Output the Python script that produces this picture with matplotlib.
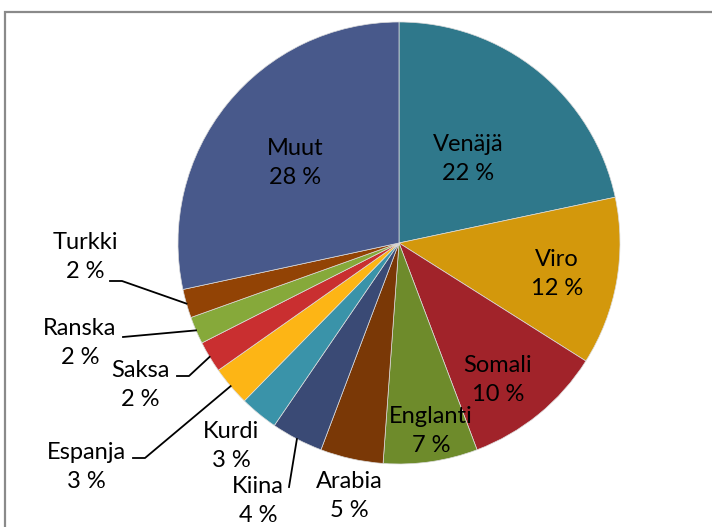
import matplotlib.pyplot as plt
from matplotlib.patches import Rectangle
import numpy as np

# share of each language (%), clockwise from 12 o'clock
languages = ["Venäjä", "Viro", "Somali", "Englanti", "Arabia", "Kiina",
             "Kurdi", "Espanja", "Saksa", "Ranska", "Turkki", "Muut"]
shares = [21.7, 12.3, 10.3, 6.9, 4.6, 3.8, 2.8, 2.9, 2.3, 2.0, 2.1, 28.4]
colors = ["#2F788B", "#D3980C", "#A1232A", "#6E8B2B", "#7A3806", "#3A4A75",
          "#3A93A9", "#FDB515", "#C92F30", "#86A93A", "#924305", "#48598B"]

W, H = 712, 527
# label centres in pixel coords (x, y from top)
label_pos = {
    "Venäjä": (468, 159), "Viro": (557, 274), "Somali": (498, 380),
    "Englanti": (431, 431), "Arabia": (349, 496), "Kiina": (258, 501),
    "Kurdi": (231, 446), "Espanja": (86, 467), "Saksa": (140, 385),
    "Ranska": (80, 343), "Turkki": (85, 257), "Muut": (295, 163),
}
# leader lines: start of the line next to the label (x, y from top)
leaders = {
    "Turkki": [(110, 281), (122, 281)],
    "Ranska": [(123, 337)],
    "Saksa": [(177, 376), (189, 376)],
    "Espanja": [(133, 458), (145, 458)],
    "Kiina": [(289, 487)],
}

fig = plt.figure(figsize=(W / 100, H / 100), dpi=100)
ax = fig.add_axes([0, 0, 1, 1])

# chart frame
ax.add_patch(Rectangle((5, -10), W, H - 12 + 10, fill=False,
                       edgecolor="#8a8a8a", linewidth=1.6))

cx, cy, r = 399, H - 243, 221
wedges, _ = ax.pie(shares, colors=colors, startangle=90, counterclock=False,
                   center=(cx, cy), radius=r, frame=True,
                   wedgeprops=dict(edgecolor="#dcdcdc", linewidth=0.5))
ax.set_xlim(0, W)
ax.set_ylim(0, H)
ax.axis("off")

total = sum(shares)
for name, val, w in zip(languages, shares, wedges):
    x, y = label_pos[name]
    ax.text(x, H - y, f"{name}\n{round(val / total * 100)} %", ha="center",
            va="center", fontsize=17, family=["Lato", "DejaVu Sans"],
            linespacing=1.5, color="black")
    if name in leaders:
        mid = np.deg2rad((w.theta1 + w.theta2) / 2)
        end = (cx + r * np.cos(mid), cy + r * np.sin(mid))
        pts = [(px, H - py) for px, py in leaders[name]] + [end]
        xs, ys = zip(*pts)
        ax.plot(xs, ys, color="black", linewidth=1.3)

fig.savefig("out.png", dpi=100)
